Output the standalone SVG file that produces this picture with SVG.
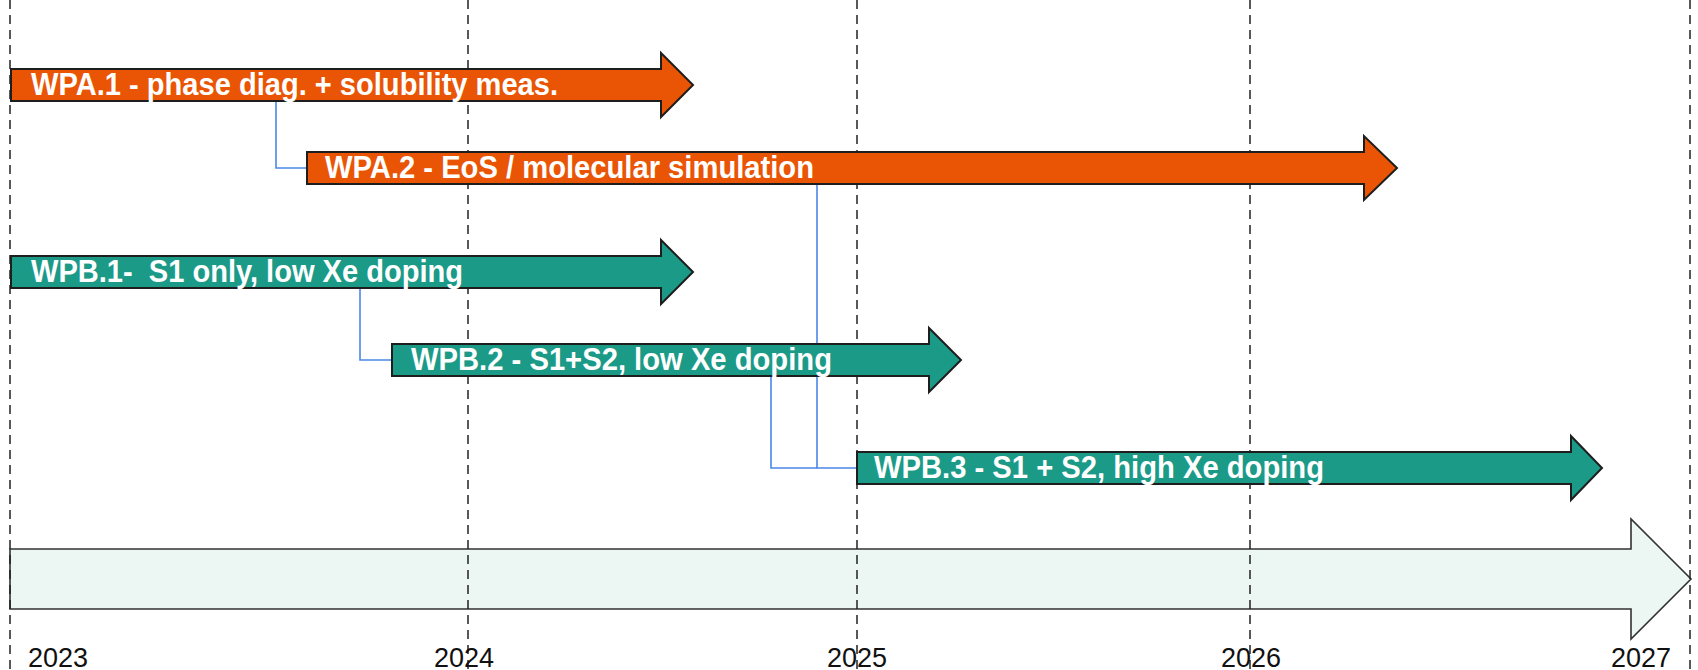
<svg xmlns="http://www.w3.org/2000/svg" width="1698" height="670" viewBox="0 0 1698 670">
  <style>
    .grid { stroke: #222; stroke-width: 1.5; stroke-dasharray: 9 6; fill: none; }
    .year { font-family: "Liberation Sans", Arial, sans-serif; font-size: 27px; fill: #111; }
    .wp { stroke: #1e1e1e; stroke-width: 2; stroke-linejoin: miter; }
    .wpa { fill: #E95504; }
    .wpb { fill: #1B9A88; }
    .label { font-family: "Liberation Sans", Arial, sans-serif; font-weight: bold; font-size: 31px; fill: #fff; white-space: pre; }
    .link { stroke: #4A86E8; stroke-width: 1.6; fill: none; }
  </style>

  <!-- timeline band -->
  <g id="timeline">
    <path d="M10,549 H1631 V519 L1691,579 L1631,639 V609 H10 Z" fill="#ECF6F3" stroke="#333" stroke-width="1.6"/>
  </g>

  <!-- year grid lines -->
  <g id="grid">
    <line class="grid" x1="10" y1="0" x2="10" y2="670"/>
    <line class="grid" x1="468" y1="0" x2="468" y2="670"/>
    <line class="grid" x1="857" y1="0" x2="857" y2="670"/>
    <line class="grid" x1="1250" y1="0" x2="1250" y2="670"/>
    <line class="grid" x1="1690" y1="0" x2="1690" y2="670"/>
  </g>

  <g id="years">
    <text class="year" x="28" y="667">2023</text>
    <text class="year" x="464" y="667" text-anchor="middle">2024</text>
    <text class="year" x="857" y="667" text-anchor="middle">2025</text>
    <text class="year" x="1251" y="667" text-anchor="middle">2026</text>
    <text class="year" x="1641" y="667" text-anchor="middle">2027</text>
  </g>

  <!-- dependencies between work packages -->
  <g id="connectors">
    <path class="link" d="M276,101 V168 H307"/>
    <path class="link" d="M360,288 V360 H392"/>
    <path class="link" d="M817,184 V468 H857"/>
    <path class="link" d="M771,376 V468 H817"/>
  </g>

  <g id="wpa1">
    <path class="wp wpa" d="M11,69 H661 V53 L693,85 L661,117 V101 H11 Z"/>
    <text class="label" x="31" y="95" textLength="527" lengthAdjust="spacingAndGlyphs">WPA.1 - phase diag. + solubility meas.</text>
  </g>

  <g id="wpa2">
    <path class="wp wpa" d="M307,152 H1364 V136 L1397,168 L1364,200 V184 H307 Z"/>
    <text class="label" x="325" y="178" textLength="489" lengthAdjust="spacingAndGlyphs">WPA.2 - EoS / molecular simulation</text>
  </g>

  <g id="wpb1">
    <path class="wp wpb" d="M11,256 H661 V240 L693,272 L661,304 V288 H11 Z"/>
    <text class="label" x="31" y="282" textLength="432" lengthAdjust="spacingAndGlyphs">WPB.1-  S1 only, low Xe doping</text>
  </g>

  <g id="wpb2">
    <path class="wp wpb" d="M392,344 H929 V328 L961,360 L929,392 V376 H392 Z"/>
    <text class="label" x="411" y="370" textLength="421" lengthAdjust="spacingAndGlyphs">WPB.2 - S1+S2, low Xe doping</text>
  </g>

  <g id="wpb3">
    <path class="wp wpb" d="M857,452 H1571 V436 L1602,468 L1571,500 V484 H857 Z"/>
    <text class="label" x="874" y="478" textLength="450" lengthAdjust="spacingAndGlyphs">WPB.3 - S1 + S2, high Xe doping</text>
  </g>
</svg>
